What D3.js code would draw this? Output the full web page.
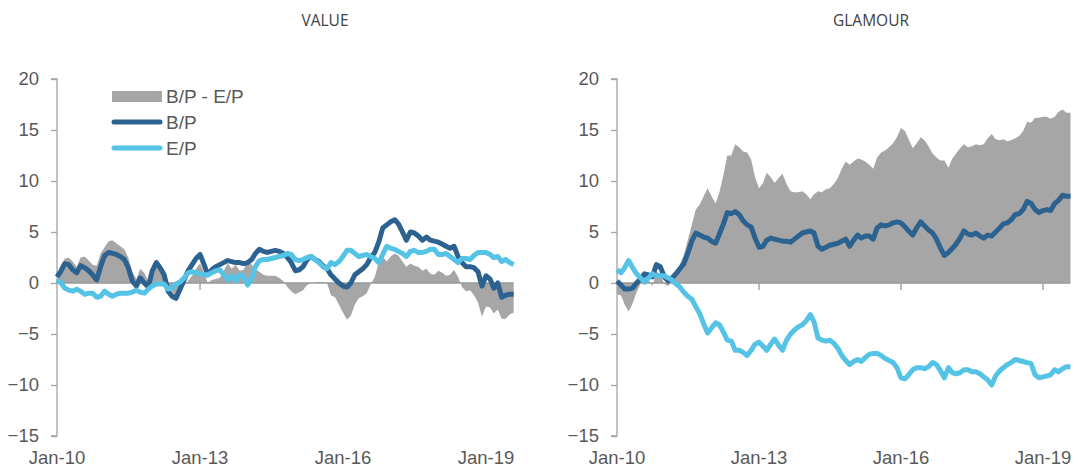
<!DOCTYPE html>
<html>
<head>
<meta charset="utf-8">
<script src="https://cdnjs.cloudflare.com/ajax/libs/d3/7.8.5/d3.min.js"></script>
<style>
  body { margin: 0; background: #fff; }
  svg { display: block; }
</style>
</head>
<body>
<div class="root"></div>
<script>
// monthly, Jan-10 .. Aug-19
var valueBP = [0.6,1.2,1.9,1.8,1.3,1.0,1.7,1.5,1.2,0.8,0.3,1.6,2.7,3.0,2.9,2.8,2.6,2.3,1.5,0.2,
  -0.3,0.5,0.0,-0.4,1.2,2.0,1.5,0.8,-0.8,-1.3,-1.5,-0.6,0.3,1.2,1.8,2.4,2.8,1.8,0.8,1.3,
  1.6,1.8,2.0,2.2,2.1,2.0,2.0,1.9,2.0,2.3,2.9,3.3,3.1,3.0,3.1,3.2,3.1,2.9,2.5,2.0,
  1.2,1.3,1.6,2.3,2.6,2.3,2.1,1.7,1.4,0.8,0.4,0.0,-0.3,-0.4,0.0,0.8,1.1,1.4,1.8,2.5,
  3.0,4.0,5.4,5.7,6.0,6.2,5.8,5.0,4.2,5.0,4.9,4.6,4.2,4.5,4.2,4.1,4.0,3.8,3.6,3.4,
  3.6,2.6,2.0,1.6,1.6,1.5,1.1,-0.3,0.7,0.4,-0.5,0.0,-1.4,-1.2,-1.1,-1.1];
var valueEP = [0.3,0.0,-0.5,-0.7,-0.8,-0.6,-0.8,-1.1,-1.0,-1.0,-1.4,-1.3,-0.8,-1.1,-1.3,-1.1,-1.0,-1.0,-1.0,-0.9,
  -0.7,-0.9,-1.0,-0.6,-0.3,-0.1,-0.1,-0.1,-0.6,-0.5,-0.1,0.1,0.5,1.0,1.1,1.0,0.9,0.8,0.8,1.0,
  1.2,1.3,0.8,0.3,0.7,0.2,0.8,0.6,-0.2,0.5,1.6,2.2,2.3,2.3,2.4,2.5,2.6,2.7,2.9,2.8,
  2.3,2.2,2.3,2.5,2.6,2.3,2.0,1.6,1.4,2.0,1.8,2.1,2.6,3.2,3.2,2.9,2.6,2.7,2.8,2.6,
  2.4,2.0,2.8,3.6,3.4,3.3,3.1,2.9,2.6,3.1,3.2,3.0,3.0,3.1,3.3,3.3,2.8,2.8,2.9,2.6,
  2.3,2.0,2.4,2.4,2.3,2.7,3.0,3.0,3.0,2.8,2.5,2.6,2.1,2.3,2.0,1.8];
var glamourBP = [0.2,-0.2,-0.6,-0.6,-0.5,0.0,0.4,0.9,0.8,0.6,1.8,1.6,0.6,0.2,0.5,0.9,1.4,1.9,2.9,4.1,
  4.9,4.7,4.5,4.4,4.1,3.9,4.8,5.8,6.9,6.8,7.0,6.7,6.1,5.7,5.5,4.4,3.5,3.6,4.2,4.4,
  4.3,4.2,4.1,4.1,4.0,4.3,4.6,4.9,5.0,5.1,4.9,3.6,3.3,3.5,3.7,3.8,3.9,4.1,4.3,3.6,
  4.2,4.7,4.4,4.6,4.6,4.3,5.4,5.7,5.6,5.7,5.9,6.0,5.9,5.5,5.1,4.7,5.4,6.0,5.6,5.2,
  4.9,4.3,3.4,2.7,3.0,3.4,3.8,4.4,5.1,4.8,4.7,4.9,4.6,4.4,4.7,4.6,5.0,5.4,5.8,5.9,
  6.2,6.7,6.8,7.2,8.0,7.8,7.2,6.9,7.1,7.2,7.1,7.8,8.1,8.6,8.5,8.5];
var glamourEP = [1.3,1.0,1.5,2.2,1.5,0.9,0.5,0.1,0.5,0.9,0.7,0.7,0.7,0.5,0.3,-0.1,-0.4,-0.9,-1.3,-1.6,
  -2.3,-3.0,-4.0,-4.9,-4.4,-3.9,-4.1,-4.8,-5.6,-5.7,-6.6,-6.6,-6.8,-7.1,-6.6,-6.0,-5.8,-6.2,-6.6,-6.0,
  -5.5,-6.1,-6.6,-5.6,-5.0,-4.6,-4.3,-4.1,-3.7,-3.1,-3.8,-5.4,-5.6,-5.7,-5.6,-5.9,-6.4,-7.1,-7.6,-8.0,
  -7.7,-7.5,-7.7,-7.3,-7.0,-6.9,-6.9,-7.1,-7.4,-7.6,-7.8,-8.3,-9.3,-9.4,-9.0,-8.5,-8.3,-8.3,-8.4,-8.2,
  -7.8,-8.0,-8.6,-9.3,-8.3,-8.8,-8.9,-8.8,-8.5,-8.5,-8.7,-8.7,-8.9,-9.2,-9.5,-10.0,-9.1,-8.6,-8.3,-8.0,
  -7.8,-7.5,-7.6,-7.7,-7.8,-7.9,-9.0,-9.3,-9.2,-9.1,-9.0,-8.5,-8.7,-8.4,-8.2,-8.2];

var yTicks = [20, 15, 10, 5, 0, -5, -10, -15];
var xTickYears = [2010, 2013, 2016, 2019];
var legendLabels = ['B/P - E/P', 'B/P', 'E/P'];

var colGrey = '#a6a6a6', colBP = '#2c6290', colEP = '#55c3e5', colAxis = '#a3a3a3';

var w = 1079, h = 468;

var svg = d3.select('.root')
            .append('svg')
            .attr('width', w)
            .attr('height', h);

var y = d3.scaleLinear().domain([-15, 20]).range([436, 79]);

function drawPanel(title, titleX, x0, x19, bp, ep, showLegend) {
  var x = d3.scaleTime()
            .domain([new Date(2010, 0, 1), new Date(2019, 0, 1)])
            .range([x0, x19]);

  var rows = bp.map(function(d, i) {
    return { date: new Date(2010, i, 1), bp: d, ep: ep[i], diff: d - ep[i] };
  });

  var g = svg.append('g');

  g.append('text')
    .text(title)
    .attr('x', titleX)
    .attr('y', 26)
    .attr('text-anchor', 'middle')
    .style('font-family', '"Open Sans", sans-serif')
    .style('font-size', '15.5px')
    .attr('fill', '#404040');

  var area = d3.area()
    .x(function(d) { return x(d.date); })
    .y0(y(0))
    .y1(function(d) { return y(d.diff); });

  g.append('path')
    .datum(rows)
    .attr('d', area)
    .attr('fill', colGrey);

  // y axis
  var yAxis = g.append('g')
    .attr('transform', 'translate(' + x0 + ',0)')
    .call(d3.axisLeft(y).tickValues(yTicks).tickSize(6).tickPadding(12));
  yAxis.select('.domain').attr('stroke', colAxis).attr('stroke-width', 1.3)
    .attr('d', 'M-6,' + y(20) + 'H0V' + y(-15) + 'H-6');
  yAxis.selectAll('.tick line').attr('stroke', colAxis).attr('stroke-width', 1.3);
  yAxis.selectAll('.tick text')
    .attr('fill', '#595959')
    .style('font-family', '"Liberation Sans", Arial, sans-serif')
    .style('font-size', '18.5px');

  // zero line with ticks
  var xEnd = x(rows[rows.length - 1].date);
  g.append('line')
    .attr('x1', x0).attr('x2', xEnd)
    .attr('y1', y(0)).attr('y2', y(0))
    .attr('stroke', '#999').attr('stroke-width', 1.5);

  g.selectAll('.xtick')
    .data(xTickYears.slice(1))
    .enter().append('line')
      .attr('x1', function(d) { return x(new Date(d, 0, 1)); })
      .attr('x2', function(d) { return x(new Date(d, 0, 1)); })
      .attr('y1', y(0)).attr('y2', y(0) + 7)
      .attr('stroke', '#999').attr('stroke-width', 1.3);

  g.selectAll('.xlabel')
    .data(xTickYears)
    .enter().append('text')
      .text(function(d) { return d3.timeFormat('%b-%y')(new Date(d, 0, 1)); })
      .attr('x', function(d) { return x(new Date(d, 0, 1)); })
      .attr('y', 464)
      .attr('text-anchor', 'middle')
      .attr('fill', '#595959')
      .style('font-family', '"Liberation Sans", Arial, sans-serif')
      .style('font-size', '18.5px');

  var lineBP = d3.line()
    .x(function(d) { return x(d.date); })
    .y(function(d) { return y(d.bp); });
  var lineEP = d3.line()
    .x(function(d) { return x(d.date); })
    .y(function(d) { return y(d.ep); });

  g.append('path')
    .datum(rows)
    .attr('d', lineBP)
    .attr('fill', 'none')
    .attr('stroke', colBP)
    .attr('stroke-width', 5)
    .attr('stroke-linejoin', 'round');

  g.append('path')
    .datum(rows)
    .attr('d', lineEP)
    .attr('fill', 'none')
    .attr('stroke', colEP)
    .attr('stroke-width', 5)
    .attr('stroke-linejoin', 'round');

  if (showLegend) {
    var lg = g.append('g');
    lg.append('rect')
      .attr('x', 112).attr('y', 91)
      .attr('width', 50).attr('height', 11)
      .attr('fill', colGrey);
    lg.selectAll('.lgline')
      .data([colBP, colEP])
      .enter().append('line')
        .attr('x1', 114).attr('x2', 160)
        .attr('y1', function(d, i) { return 122 + i * 26; })
        .attr('y2', function(d, i) { return 122 + i * 26; })
        .attr('stroke', function(d) { return d; })
        .attr('stroke-width', 5)
        .attr('stroke-linecap', 'round');
    lg.selectAll('.lgtext')
      .data(legendLabels)
      .enter().append('text')
        .text(function(d) { return d; })
        .attr('x', 166)
        .attr('y', function(d, i) { return 103 + i * 26; })
        .attr('fill', '#595959')
        .style('font-family', '"Liberation Sans", Arial, sans-serif')
        .style('font-size', '19px');
  }
}

drawPanel('VALUE', 325, 57, 486, valueBP, valueEP, true);
drawPanel('GLAMOUR', 871, 617, 1043, glamourBP, glamourEP, false);
</script>
</body>
</html>
